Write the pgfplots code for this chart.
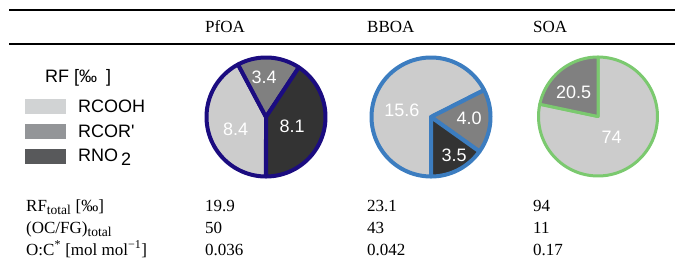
\documentclass[border=0pt]{standalone}
\usepackage{pgfplots}
\pgfplotsset{compat=1.18}
\usepackage{fontspec}
\setmainfont{Liberation Serif}
\newfontfamily\sansf{Liberation Sans}
\definecolor{cOOH}{HTML}{CCCCCC}
\definecolor{cCOR}{HTML}{808080}
\definecolor{cNO}{HTML}{333333}
\definecolor{lOOH}{HTML}{D1D3D4}
\definecolor{lCOR}{HTML}{939598}
\definecolor{lNO}{HTML}{58595B}
\definecolor{ePf}{HTML}{1B0C80}
\definecolor{eBB}{HTML}{3C7DC0}
\definecolor{eSO}{HTML}{7BC96F}
% slice values (permil)
\def\PfA{8.4}\def\PfB{3.4}\def\PfC{8.1}
\def\BBA{15.6}\def\BBB{4.0}\def\BBC{3.5}
\def\SOA{74}\def\SOB{20.5}
\pgfmathsetmacro{\PfT}{\PfA+\PfB+\PfC}
\pgfmathsetmacro{\PfaA}{270}
\pgfmathsetmacro{\PfaB}{\PfaA-\PfA/\PfT*360}
\pgfmathsetmacro{\PfaC}{\PfaB-\PfB/\PfT*360}
\pgfmathsetmacro{\PfaD}{\PfaC-\PfC/\PfT*360}
\pgfmathsetmacro{\BBT}{\BBA+\BBB+\BBC}
\pgfmathsetmacro{\BBaA}{270}
\pgfmathsetmacro{\BBaB}{\BBaA-\BBA/\BBT*360}
\pgfmathsetmacro{\BBaC}{\BBaB-\BBB/\BBT*360}
\pgfmathsetmacro{\BBaD}{\BBaC-\BBC/\BBT*360}
\pgfmathsetmacro{\SOT}{\SOA+\SOB}
\pgfmathsetmacro{\SOaA}{90}
\pgfmathsetmacro{\SOaB}{\SOaA-\SOA/\SOT*360}
\pgfmathsetmacro{\SOaC}{\SOaB-\SOB/\SOT*360}
\pgfplotsset{pie/.style={anchor=center, scale only axis, width=119pt, height=119pt,
  xmin=-1, xmax=1, ymin=-1, ymax=1, hide axis, clip=false},
  slice/.style={line width=4pt, line join=round, samples=90, variable=\t}}
\newcommand{\tf}{\fontsize{17}{20}\selectfont}
\newcommand{\sub}[1]{\textsubscript{\fontsize{13.5}{14}\selectfont #1}}
\newcommand{\pf}{\sansf\fontsize{18}{20}\selectfont}
\begin{document}
\begin{tikzpicture}
\path[use as bounding box] (0pt,0pt) rectangle (675pt,-262pt);
\begin{scope}[x=1pt,y=-1pt]
\draw[line width=1.7pt] (9,10) -- (675,10);
\draw[line width=1.7pt] (9,44) -- (675,44);
\node[anchor=base west, inner sep=0pt, font=\tf] at (205,33) {PfOA};
\node[anchor=base west, inner sep=0pt, font=\tf] at (367,33) {BBOA};
\node[anchor=base west, inner sep=0pt, font=\tf] at (533,33) {SOA};
% legend
\node[anchor=base west, inner sep=0pt, font=\pf] at (45,82) {RF [‰\hspace{4pt} ]};
\fill[lOOH] (25,99) rectangle (66,114);
\fill[lCOR] (25,124) rectangle (66,139);
\fill[lNO] (25,149) rectangle (66,164);
\node[anchor=base west, inner sep=0pt, font=\pf] at (78,112.5) {RCOOH};
\node[anchor=base west, inner sep=0pt, font=\pf] at (78,137) {RCOR'};
\node[anchor=base west, inner sep=0pt, font=\pf] at (78,161.5) {RNO\,\raisebox{-3.5pt}{2}};
% bottom rows
\node[anchor=base west, inner sep=0pt, font=\tf] at (26,211) {RF\sub{total} [‰]};
\node[anchor=base west, inner sep=0pt, font=\tf] at (26,233) {(OC/FG)\sub{total}};
\node[anchor=base west, inner sep=0pt, font=\tf] at (26,255) {O:C\textsuperscript{\fontsize{12}{12}\selectfont *} [mol mol\textsuperscript{\fontsize{12}{12}\selectfont −1}]};
\node[anchor=base west, inner sep=0pt, font=\tf] at (205,211) {19.9};
\node[anchor=base west, inner sep=0pt, font=\tf] at (205,233) {50};
\node[anchor=base west, inner sep=0pt, font=\tf] at (205,255) {0.036};
\node[anchor=base west, inner sep=0pt, font=\tf] at (367,211) {23.1};
\node[anchor=base west, inner sep=0pt, font=\tf] at (367,233) {43};
\node[anchor=base west, inner sep=0pt, font=\tf] at (367,255) {0.042};
\node[anchor=base west, inner sep=0pt, font=\tf] at (533,211) {94};
\node[anchor=base west, inner sep=0pt, font=\tf] at (533,233) {11};
\node[anchor=base west, inner sep=0pt, font=\tf] at (533,255) {0.17};
\end{scope}
% PfOA pie
\begin{axis}[pie, at={(266pt,-117pt)}]
\addplot[slice, fill=cOOH, draw=ePf, domain=\PfaB:\PfaA] ({cos(\t)},{sin(\t)}) -- (axis cs:0,0) -- cycle;
\addplot[slice, fill=cCOR, draw=ePf, domain=\PfaC:\PfaB] ({cos(\t)},{sin(\t)}) -- (axis cs:0,0) -- cycle;
\addplot[slice, fill=cNO, draw=ePf, domain=\PfaD:\PfaC] ({cos(\t)},{sin(\t)}) -- (axis cs:0,0) -- cycle;
\node[text=white, font=\pf] at (axis cs:-0.03,0.66) {3.4};
\node[text=white, font=\pf] at (axis cs:-0.51,-0.2) {8.4};
\node[text=white, font=\pf] at (axis cs:0.44,-0.16) {8.1};
\end{axis}
% BBOA pie
\begin{axis}[pie, at={(431pt,-117pt)}]
\addplot[slice, fill=cOOH, draw=eBB, domain=\BBaB:\BBaA] ({cos(\t)},{sin(\t)}) -- (axis cs:0,0) -- cycle;
\addplot[slice, fill=cCOR, draw=eBB, domain=\BBaC:\BBaB] ({cos(\t)},{sin(\t)}) -- (axis cs:0,0) -- cycle;
\addplot[slice, fill=cNO, draw=eBB, domain=\BBaD:\BBaC] ({cos(\t)},{sin(\t)}) -- (axis cs:0,0) -- cycle;
\node[text=white, font=\pf] at (axis cs:-0.49,0.11) {15.6};
\node[text=white, font=\pf] at (axis cs:0.64,-0.03) {4.0};
\node[text=white, font=\pf] at (axis cs:0.39,-0.64) {3.5};
\end{axis}
% SOA pie
\begin{axis}[pie, at={(598pt,-116.5pt)}]
\addplot[slice, fill=cOOH, draw=eSO, line width=3pt, domain=\SOaB:\SOaA] ({cos(\t)},{sin(\t)}) -- (axis cs:0,0) -- cycle;
\addplot[slice, fill=cCOR, draw=eSO, line width=3pt, domain=\SOaC:\SOaB] ({cos(\t)},{sin(\t)}) -- (axis cs:0,0) -- cycle;
\node[text=white, font=\pf] at (axis cs:-0.41,0.40) {20.5};
\node[text=white, font=\pf] at (axis cs:0.23,-0.35) {74};
\end{axis}
\end{tikzpicture}
\end{document}
